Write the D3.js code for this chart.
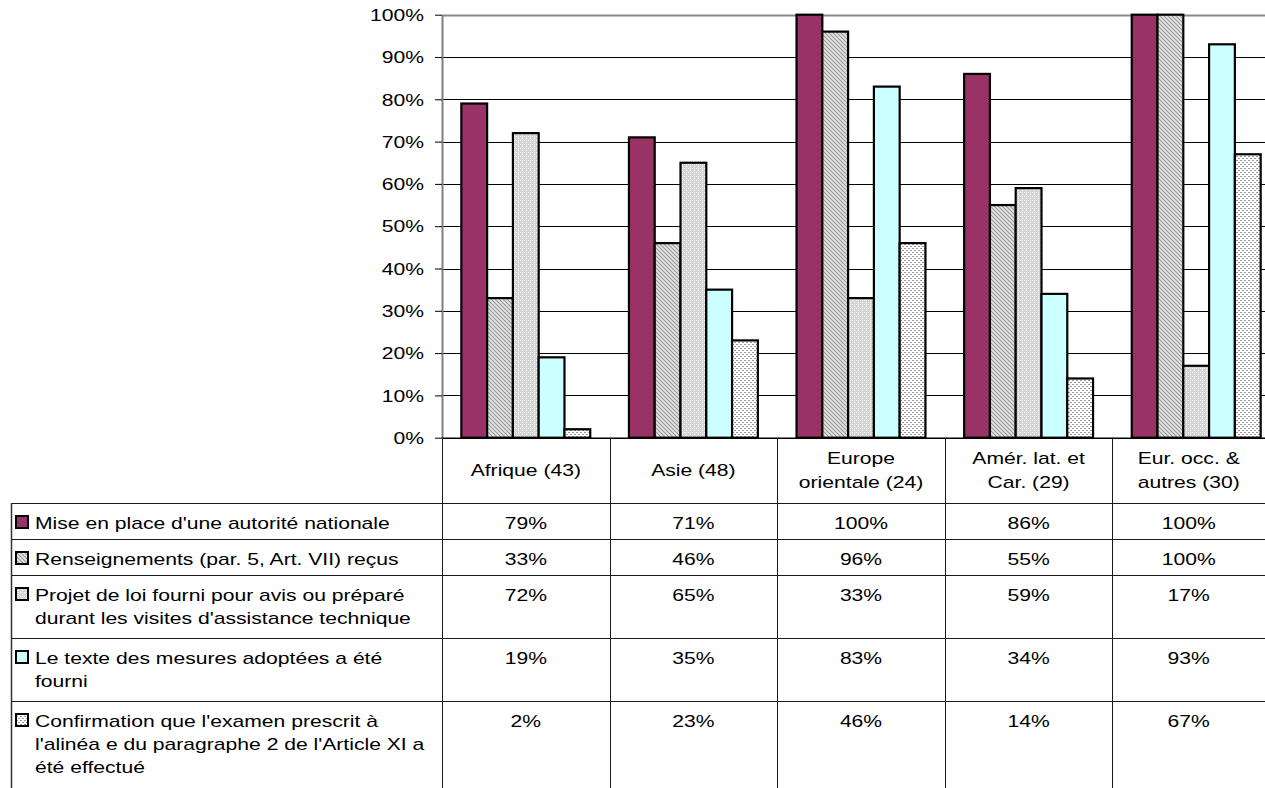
<!DOCTYPE html>
<html>
<head>
<meta charset="utf-8">
<script src="https://cdn.jsdelivr.net/npm/d3@7"></script>
<style>
  body { margin: 0; background: #fff; }
  svg { display: block; }
  text { font-family: "Liberation Sans", Arial, sans-serif; font-size: 16px; fill: #000; }
</style>
</head>
<body>
<svg id="chart" width="1265" height="788"></svg>
<script>
// Regions (column headers, possibly on two lines)
const categories = [
  ["Afrique (43)"],
  ["Asie (48)"],
  ["Europe", "orientale (24)"],
  ["Amér. lat. et", "Car. (29)"],
  ["Eur. occ. &", "autres (30)"]
];

// Series labels (legend / table row headers)
const seriesNames = [
  ["Mise en place d'une autorité nationale"],
  ["Renseignements (par. 5, Art. VII) reçus"],
  ["Projet de loi fourni pour avis ou préparé", "durant les visites d'assistance technique"],
  ["Le texte des mesures adoptées a été", "fourni"],
  ["Confirmation que l'examen prescrit à", "l'alinéa e du paragraphe 2 de l'Article XI a", "été effectué"]
];

// Percentages per region
const autoriteNationale = [79, 71, 100, 86, 100];
const renseignements    = [33, 46, 96, 55, 100];
const projetDeLoi       = [72, 65, 33, 59, 17];
const texteMesures      = [19, 35, 83, 34, 93];
const confirmationExamen = [2, 23, 46, 14, 67];

const yTicks = [0, 10, 20, 30, 40, 50, 60, 70, 80, 90, 100];

const seriesValues = [autoriteNationale, renseignements, projetDeLoi, texteMesures, confirmationExamen];
const seriesFills = ["#993366", "url(#hatch)", "url(#dots)", "#ccffff", "url(#checker)"];

// ---- layout ----
const W = 1265, H = 788;
const plotLeft = 442, plotRight = 1280, plotTop = 14.7, plotBottom = 437.7;
const headerBottom = 503;
const tableLeft = 11;
const SX = 1.32; // horizontal text stretch

const svg = d3.select("#chart");

// fill patterns
const defs = svg.append("defs");
const hatch = defs.append("pattern").attr("id", "hatch").attr("patternUnits", "userSpaceOnUse")
  .attr("width", 4).attr("height", 4);
hatch.append("rect").attr("width", 4).attr("height", 4).attr("fill", "#e6e6e6");
hatch.append("path").attr("d", "M0,0 L4,4 M-1,3 L1,5 M3,-1 L5,1")
  .attr("stroke", "#969696").attr("stroke-width", 1.1);

const dots = defs.append("pattern").attr("id", "dots").attr("patternUnits", "userSpaceOnUse")
  .attr("width", 4).attr("height", 4);
dots.append("rect").attr("width", 4).attr("height", 4).attr("fill", "#d4d4d4");
dots.append("rect").attr("x", 0).attr("y", 0).attr("width", 1).attr("height", 1).attr("fill", "#ffffff");
dots.append("rect").attr("x", 2).attr("y", 2).attr("width", 1).attr("height", 1).attr("fill", "#ffffff");
dots.append("rect").attr("x", 2).attr("y", 0).attr("width", 1).attr("height", 1).attr("fill", "#f0f0f0");

const checker = defs.append("pattern").attr("id", "checker").attr("patternUnits", "userSpaceOnUse")
  .attr("width", 4).attr("height", 4);
checker.append("rect").attr("width", 4).attr("height", 4).attr("fill", "#ffffff");
checker.append("rect").attr("x", 0).attr("y", 0).attr("width", 2).attr("height", 1).attr("fill", "#9a9a9a");
checker.append("rect").attr("x", 2).attr("y", 2).attr("width", 2).attr("height", 1).attr("fill", "#9a9a9a");

// scales
const x = d3.scaleBand().domain(d3.range(categories.length)).range([plotLeft, plotRight]).padding(0);
const xs = d3.scaleBand().domain(d3.range(seriesValues.length)).range([0, x.bandwidth()])
  .paddingInner(0).paddingOuter(0.75);
const y = d3.scaleLinear().domain([0, 100]).range([plotBottom, plotTop]);

function stretched(g, tx, ty, str, anchor) {
  return g.append("text")
    .attr("transform", `translate(${tx},${ty}) scale(${SX},1)`)
    .attr("text-anchor", anchor)
    .text(str);
}

// gridlines
svg.append("g").selectAll("line").data(yTicks).join("line")
  .attr("x1", plotLeft).attr("x2", plotRight)
  .attr("y1", d => Math.round(y(d)) + 0.5).attr("y2", d => Math.round(y(d)) + 0.5)
  .attr("stroke", d => d === 100 ? "#8a8a8a" : "#000")
  .attr("stroke-width", d => d === 100 ? 2 : 1);

// y axis
const yAxis = svg.append("g").attr("transform", `translate(${plotLeft},0)`)
  .call(d3.axisLeft(y).tickValues(yTicks).tickFormat(d => d + "%").tickSize(7).tickSizeOuter(0));
yAxis.select(".domain").attr("stroke", "#808080").attr("stroke-width", 2);
yAxis.selectAll(".tick line").attr("stroke", "#000");
yAxis.selectAll(".tick text")
  .attr("x", null).attr("dy", "0.36em")
  .attr("transform", `translate(-18,0) scale(${SX},1)`)
  .attr("text-anchor", "end")
  .style("font-size", "16px").style("font-family", "'Liberation Sans', Arial, sans-serif")
  .attr("fill", "#000");

// bars
seriesValues.forEach((vals, s) => {
  svg.append("g").selectAll("rect").data(vals).join("rect")
    .attr("x", (d, i) => x(i) + xs(s))
    .attr("y", d => y(d))
    .attr("width", xs.bandwidth())
    .attr("height", d => y(0) - y(d))
    .attr("fill", seriesFills[s])
    .attr("stroke", "#000")
    .attr("stroke-width", 2.2);
});

// x axis baseline
svg.append("line").attr("x1", plotLeft).attr("x2", plotRight)
  .attr("y1", plotBottom + 0.5).attr("y2", plotBottom + 0.5)
  .attr("stroke", "#000").attr("stroke-width", 1.5);

// ---- data table ----
const lineH = 23.3;
const rowHeights = seriesNames.map(n => 9 + 27 * n.length);
const rowTops = [];
rowHeights.reduce((acc, h) => { rowTops.push(acc); return acc + h; }, headerBottom);

const table = svg.append("g");
const colCenter = i => (x(i) + Math.min(x(i) + x.bandwidth(), W)) / 2;

// category header cells
categories.forEach((lines, i) => {
  const mid = (plotBottom + headerBottom) / 2;
  lines.forEach((ln, k) => {
    const cy = mid + (k - (lines.length - 1) / 2) * lineH + 5.7;
    stretched(table, colCenter(i), cy, ln, "middle");
  });
});

// horizontal row lines
const hLines = [headerBottom].concat(rowTops.slice(1));
table.selectAll("line.h").data(hLines).join("line").attr("class", "h")
  .attr("x1", tableLeft).attr("x2", plotRight)
  .attr("y1", d => Math.round(d) + 0.5).attr("y2", d => Math.round(d) + 0.5)
  .attr("stroke", "#1a1a1a").attr("stroke-width", 1);

// vertical column separators
const vLines = d3.range(categories.length + 1).map(i => i < categories.length ? x(i) : plotRight);
table.selectAll("line.v").data(vLines).join("line").attr("class", "v")
  .attr("x1", d => Math.round(d) + 0.5).attr("x2", d => Math.round(d) + 0.5)
  .attr("y1", plotBottom).attr("y2", H)
  .attr("stroke", "#1a1a1a").attr("stroke-width", 1);
table.append("line")
  .attr("x1", tableLeft + 0.5).attr("x2", tableLeft + 0.5)
  .attr("y1", headerBottom).attr("y2", H)
  .attr("stroke", "#333").attr("stroke-width", 1.5);

// series rows: legend key, label, values
seriesNames.forEach((lines, s) => {
  const top = rowTops[s];
  const base = top + 25.5;
  table.append("rect")
    .attr("x", 16).attr("y", base - 12.5)
    .attr("width", 12).attr("height", 12)
    .attr("fill", seriesFills[s]).attr("stroke", "#000").attr("stroke-width", 2);
  lines.forEach((ln, k) => stretched(table, 35, base + k * lineH, ln, "start"));
  seriesValues[s].forEach((v, i) => stretched(table, colCenter(i), base, v + "%", "middle"));
});
</script>
</body>
</html>
